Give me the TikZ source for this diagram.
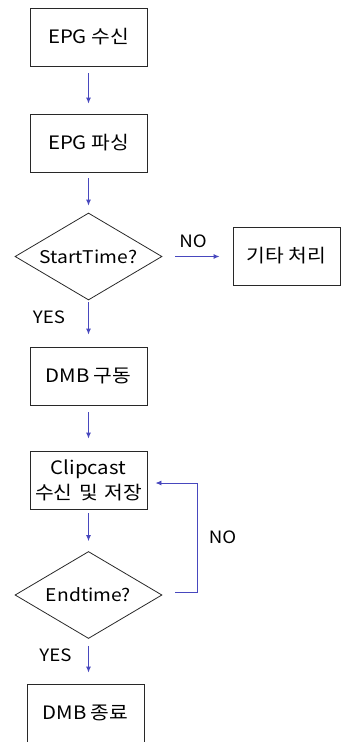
\documentclass[tikz,border=0pt]{standalone}
\usepackage{fontspec}
\setmainfont[FakeStretch=1.1]{Noto Sans CJK KR}
\usetikzlibrary{arrows.meta,calc,shapes.geometric}
\definecolor{arrowcol}{RGB}{72,72,190}
\definecolor{edgecol}{RGB}{40,40,40}
\begin{document}
\begin{tikzpicture}[x=1pt,y=-1pt,
  box/.style={draw=edgecol,line width=0.9pt,minimum width=117pt,minimum height=58pt,inner sep=0pt,align=center,font=\fontsize{18.5}{25}\selectfont},
  dia/.style={draw=edgecol,line width=0.8pt,shape=diamond,aspect=1.69,minimum width=147pt,minimum height=87pt,inner sep=0pt,font=\fontsize{17.5}{20}\selectfont},
  arr/.style={draw=arrowcol,line width=0.9pt,-{Latex[length=6pt,width=5pt]}},
  lbl/.style={inner sep=0pt,font=\fontsize{17}{19}\selectfont}
]
\useasboundingbox (0,0) rectangle (342,742);
\clip (0,0) rectangle (342,742);
\node[box] (epg) at (88.5,37) {EPG 수신};
\node[box] (parse) at (88.5,143) {EPG 파싱};
\node[dia] (start) at (88.5,256.5) {StartTime?};
\node[box,minimum width=107pt] (other) at (286.5,256) {기타 처리};
\node[box] (dmb) at (88.5,376) {DMB 구동};
\node[box] (clip) at (88.5,480) {Clipcast\\수신\hspace{0.35em}및\hspace{0.35em}저장};
\node[dia] (end) at (88.5,595) {Endtime?};
\node[box] (stop) at (85.5,713) {DMB 종료};

\draw[arr,shorten <=7pt,shorten >=10pt] (epg) -- (parse);
\draw[arr,shorten <=6pt,shorten >=7pt] (parse) -- (start);
\draw[arr,shorten <=2pt,shorten >=12pt] (start) -- (dmb);
\draw[arr,shorten <=7pt,shorten >=12pt] (dmb) -- (clip);
\draw[arr,shorten <=4pt,shorten >=10pt] (clip) -- (end);
\draw[arr,shorten <=7pt,shorten >=11pt] (end.south) -- (end.south |- stop.north);
\draw[arr,shorten <=13pt,shorten >=13pt] (start.east) -- (start.east -| other.west);
\draw[arr] ($(end.east)+(13,-3)$) -- ++(22,0) |- ($(clip.east)+(8,3)$);

\node[lbl] (no1) at (193,241) {NO};
\node[lbl] (yes1) at (49,317.5) {YES};
\node[lbl] (no2) at (222.5,537.5) {NO};
\node[lbl] (yes2) at (55.5,655) {YES};
\end{tikzpicture}
\end{document}
